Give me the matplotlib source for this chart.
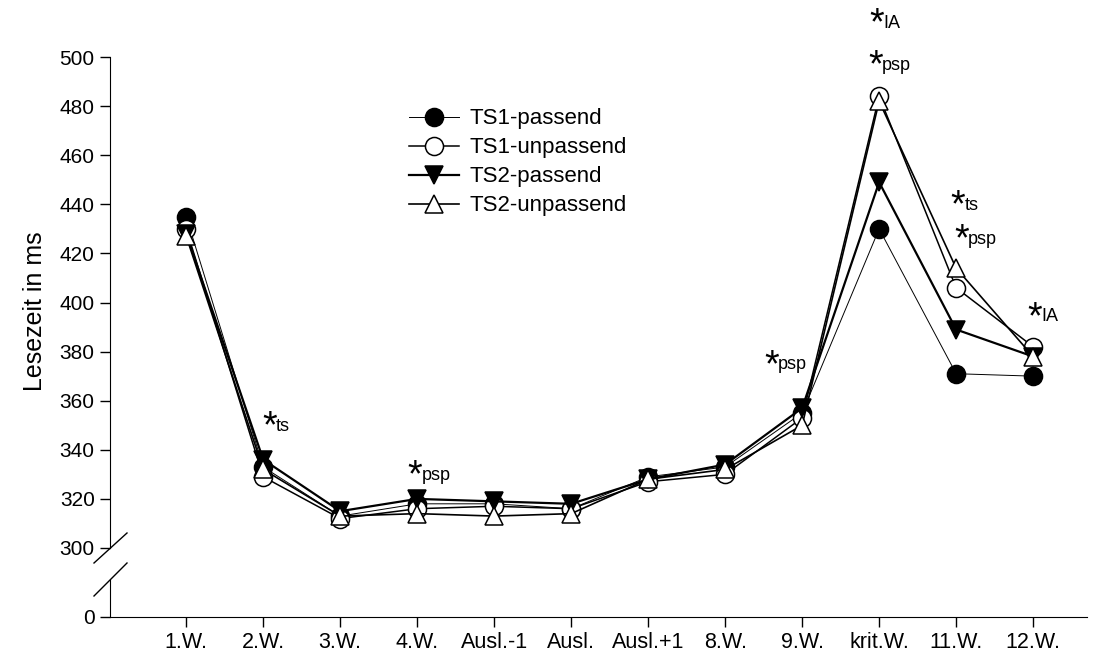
import matplotlib
matplotlib.use("Agg")
import matplotlib.pyplot as plt
from matplotlib.lines import Line2D
import numpy as np

plt.rcParams['font.family'] = ['Liberation Sans', 'DejaVu Sans']

# --- data ---
positions = ['1.W.', '2.W.', '3.W.', '4.W.', 'Ausl.-1', 'Ausl.', 'Ausl.+1',
             '8.W.', '9.W.', 'krit.W.', '11.W.', '12.W.']
ts1_passend = [435, 333, 313, 318, 318, 316, 329, 333, 355, 430, 371, 370]
ts1_unpassend = [430, 329, 312, 316, 317, 316, 327, 330, 353, 484, 406, 382]
ts2_passend = [428, 336, 315, 320, 319, 318, 328, 334, 357, 449, 389, 378]
ts2_unpassend = [427, 332, 313, 314, 313, 314, 328, 332, 350, 482, 414, 378]

# significance marks: x (category position), y, subscript
sig_x = [1.08, 2.97, 7.6, 8.97, 8.95, 10.02, 10.07, 11.02]
sig_y = [352, 332, 377, 516, 499, 442, 428, 396.5]
sig_sub = ['ts', 'psp', 'psp', 'IA', 'psp', 'ts', 'psp', 'IA']

fig = plt.figure(figsize=(10.99, 6.6), dpi=100)
ax = fig.add_axes([0.1001, 0.1697, 0.889, 0.7439])
axb = fig.add_axes([0.1001, 0.0652, 0.889, 0.0561])

x = np.arange(len(positions))

series = [
    ('TS1-passend', ts1_passend, 'o', 'black', 0.7),
    ('TS1-unpassend', ts1_unpassend, 'o', 'white', 1.1),
    ('TS2-passend', ts2_passend, 'v', 'black', 1.6),
    ('TS2-unpassend', ts2_unpassend, '^', 'white', 1.2),
]
for label, vals, mk, fc, lw in series:
    ax.plot(x, vals, color='black', lw=lw, marker=mk, markersize=13,
            markerfacecolor=fc, markeredgecolor='black', markeredgewidth=1.1,
            label=label)

for xs, yv, sub in zip(sig_x, sig_y, sig_sub):
    ax.annotate('*', (xs, yv), xytext=(0, -5), textcoords='offset points',
                fontsize=27, ha='center', va='center', annotation_clip=False)
    ax.annotate(sub, (xs, yv), xytext=(4.8, -4.2), textcoords='offset points',
                fontsize=13, ha='left', va='center', annotation_clip=False)

xlim = (-0.99, 11.7)
ax.set_xlim(*xlim)
ax.set_ylim(300, 500)
ax.set_yticks(np.arange(300, 501, 20))
ax.set_xticks([])
for s in ['top', 'right', 'bottom']:
    ax.spines[s].set_visible(False)
ax.tick_params(axis='y', direction='out', length=7, width=1, labelsize=15, pad=4)
ax.set_ylabel('Lesezeit in ms', fontsize=18)
ax.yaxis.set_label_coords(-0.064, 0.483)

axb.set_xlim(*xlim)
axb.set_ylim(0, 15)
axb.set_yticks([0])
axb.set_xticks(x)
axb.set_xticklabels(positions)
for s in ['top', 'right']:
    axb.spines[s].set_visible(False)
axb.tick_params(axis='both', direction='out', length=7, width=1, labelsize=15, pad=4)
axb.tick_params(axis='x', labelsize=15.5)

# axis break marks
for y0, y1 in [(563, 533), (596, 563)]:
    fig.add_artist(Line2D([94 / 1099, 127 / 1099], [1 - y0 / 660, 1 - y1 / 660],
                          color='black', lw=1))

ax.legend(loc='upper left', bbox_to_anchor=(0.354, 0.866), bbox_transform=fig.transFigure,
          frameon=False, fontsize=16, handlelength=2.25, labelspacing=0.36,
          handletextpad=0.45, markerscale=1.0)

fig.savefig('out.png', dpi=100, facecolor='white')
